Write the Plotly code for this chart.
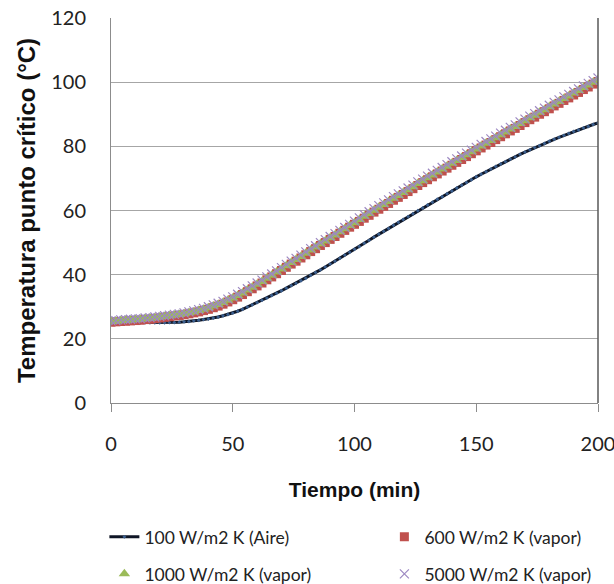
import plotly.graph_objects as go

tiempo = list(range(0, 201, 2))

aire_100 = [25.0, 25.0, 25.0, 25.0, 25.0, 25.0,
            25.0, 25.0, 25.0, 25.0, 25.0,
            25.0, 25.1, 25.1, 25.2, 25.3,
            25.4, 25.6, 25.8, 26.0, 26.2,
            26.5, 26.8, 27.2, 27.6, 28.0,
            28.6, 29.2, 29.9, 30.6, 31.3,
            32.0, 32.7, 33.5, 34.2, 35.0,
            35.8, 36.6, 37.3, 38.1, 38.9,
            39.8, 40.7, 41.5, 42.4, 43.3,
            44.2, 45.1, 46.1, 47.0, 47.9,
            48.8, 49.8, 50.7, 51.7, 52.6,
            53.5, 54.4, 55.4, 56.3, 57.2,
            58.1, 59.0, 59.9, 60.8, 61.7,
            62.6, 63.5, 64.3, 65.2, 66.1,
            67.0, 67.9, 68.7, 69.6, 70.5,
            71.3, 72.1, 72.9, 73.7, 74.5,
            75.2, 76.0, 76.7, 77.5, 78.2,
            78.9, 79.6, 80.2, 80.9, 81.6,
            82.2, 82.8, 83.4, 84.0, 84.6,
            85.1, 85.7, 86.2, 86.8, 87.3]

vapor_600 = [25.2, 25.3, 25.4, 25.5, 25.6, 25.7,
             25.8, 26.0, 26.1, 26.3, 26.5,
             26.7, 26.9, 27.1, 27.3, 27.5,
             27.8, 28.1, 28.4, 28.8, 29.2,
             29.7, 30.2, 30.8, 31.5, 32.2,
             33.0, 33.8, 34.7, 35.6, 36.5,
             37.4, 38.4, 39.3, 40.3, 41.3,
             42.3, 43.3, 44.2, 45.2, 46.2,
             47.2, 48.1, 49.1, 50.0, 51.0,
             51.9, 52.9, 53.8, 54.8, 55.7,
             56.6, 57.6, 58.5, 59.5, 60.4,
             61.3, 62.2, 63.2, 64.1, 65.0,
             65.9, 66.8, 67.8, 68.7, 69.6,
             70.5, 71.4, 72.3, 73.2, 74.1,
             75.0, 75.9, 76.8, 77.7, 78.6,
             79.5, 80.4, 81.2, 82.1, 83.0,
             83.9, 84.8, 85.6, 86.5, 87.4,
             88.3, 89.1, 90.0, 90.8, 91.7,
             92.6, 93.4, 94.3, 95.1, 96.0,
             96.8, 97.7, 98.5, 99.4, 100.2]

vapor_1000 = [25.4, 25.5, 25.7, 25.8, 25.9, 26.0,
              26.1, 26.3, 26.4, 26.6, 26.8,
              27.0, 27.2, 27.4, 27.6, 27.8,
              28.1, 28.4, 28.8, 29.2, 29.7,
              30.2, 30.7, 31.3, 32.0, 32.7,
              33.5, 34.3, 35.2, 36.1, 37.0,
              37.9, 38.9, 39.8, 40.8, 41.8,
              42.8, 43.8, 44.7, 45.7, 46.7,
              47.7, 48.6, 49.6, 50.5, 51.5,
              52.4, 53.4, 54.3, 55.3, 56.2,
              57.2, 58.2, 59.1, 60.1, 61.0,
              61.9, 62.8, 63.8, 64.7, 65.6,
              66.5, 67.4, 68.4, 69.3, 70.2,
              71.1, 72.0, 72.9, 73.8, 74.7,
              75.6, 76.5, 77.4, 78.3, 79.2,
              80.1, 81.0, 81.8, 82.7, 83.6,
              84.5, 85.4, 86.2, 87.1, 88.0,
              88.9, 89.7, 90.6, 91.4, 92.3,
              93.2, 94.0, 94.9, 95.7, 96.6,
              97.4, 98.3, 99.1, 100.0, 100.8]

vapor_5000 = [25.6, 25.7, 25.9, 26.0, 26.1, 26.2,
              26.3, 26.5, 26.6, 26.8, 27.0,
              27.2, 27.4, 27.6, 27.8, 28.1,
              28.4, 28.7, 29.1, 29.5, 30.0,
              30.6, 31.1, 31.7, 32.4, 33.1,
              33.9, 34.7, 35.6, 36.5, 37.4,
              38.3, 39.3, 40.2, 41.2, 42.2,
              43.2, 44.2, 45.1, 46.1, 47.1,
              48.1, 49.0, 50.0, 50.9, 51.9,
              52.8, 53.8, 54.7, 55.7, 56.7,
              57.7, 58.7, 59.6, 60.6, 61.5,
              62.4, 63.3, 64.3, 65.2, 66.1,
              67.0, 67.9, 68.9, 69.8, 70.7,
              71.6, 72.5, 73.4, 74.3, 75.2,
              76.1, 77.0, 77.9, 78.8, 79.7,
              80.6, 81.5, 82.3, 83.2, 84.1,
              85.0, 85.9, 86.7, 87.6, 88.5,
              89.4, 90.2, 91.1, 91.9, 92.8,
              93.7, 94.5, 95.4, 96.2, 97.1,
              97.9, 98.8, 99.6, 100.5, 101.3]

nombres = ["100 W/m2 K (Aire)", "600 W/m2 K (vapor)",
           "1000 W/m2 K (vapor)", "5000 W/m2 K (vapor)"]
x_ticks = [0, 50, 100, 150, 200]
y_ticks = [0, 20, 40, 60, 80, 100, 120]

fig = go.Figure()
fig.add_trace(go.Scatter(
    x=tiempo, y=aire_100, name=nombres[0], mode="lines+markers",
    line=dict(color="#0f1626", width=3),
    marker=dict(symbol="diamond", size=3, color="#3b5f8f"),
    legend="legend"))
fig.add_trace(go.Scatter(
    x=tiempo, y=vapor_600, name=nombres[1], mode="markers",
    marker=dict(symbol="square", size=9, color="#C0504D"),
    legend="legend"))
fig.add_trace(go.Scatter(
    x=tiempo, y=vapor_1000, name=nombres[2], mode="markers",
    marker=dict(symbol="triangle-up", size=10, color="#9BBB59"),
    legend="legend2"))
fig.add_trace(go.Scatter(
    x=tiempo, y=vapor_5000, name=nombres[3], mode="markers",
    marker=dict(symbol="x-thin", size=9, color="#9D89C2",
                line=dict(color="#9D89C2", width=1.2)),
    legend="legend2"))

leg_common = dict(orientation="h", xanchor="left", yanchor="middle",
                  entrywidth=235, entrywidthmode="pixels",
                  font=dict(family="Lato", size=17.5, color="#222"),
                  bgcolor="rgba(0,0,0,0)")

fig.update_layout(
    width=614, height=584,
    margin=dict(l=111, r=16, t=18, b=181, autoexpand=False),
    paper_bgcolor="white", plot_bgcolor="white",
    showlegend=True,
    legend=dict(x=-0.0136, y=-0.348, **leg_common),
    legend2=dict(x=-0.0136, y=-0.444, **leg_common),
    shapes=[dict(type="line", xref="paper", yref="paper",
                 x0=1, x1=1, y0=0, y1=1,
                 line=dict(color="#595959", width=1.5))],
)
fig.update_xaxes(
    range=[0, 200], tickvals=x_ticks, showgrid=False, zeroline=False,
    showline=True, linecolor="#8c8c8c", linewidth=1,
    ticks="outside", ticklen=8, tickcolor="#8c8c8c",
    ticklabelstandoff=15, ticklabeloverflow="allow",
    tickfont=dict(family="Lato", size=20, color="#222"),
    title=dict(text="<b>Tiempo (min)</b>", standoff=28,
               font=dict(family="Liberation Sans", size=21, color="#111")),
)
fig.update_yaxes(
    range=[0, 120], tickvals=y_ticks, showgrid=True, gridcolor="#a6a6a6",
    gridwidth=1, zeroline=False,
    showline=True, linecolor="#8c8c8c", linewidth=1,
    ticks="", ticklabelstandoff=20, ticklabeloverflow="allow",
    tickfont=dict(family="Lato", size=20, color="#222"),
    title=dict(text="<b>Temperatura punto crítico (°C)</b>", standoff=8,
               font=dict(family="Liberation Sans", size=24, color="#111")),
)

fig.write_html("out.html", config={"displayModeBar": False},
               post_script="document.body.style.margin='0';")
